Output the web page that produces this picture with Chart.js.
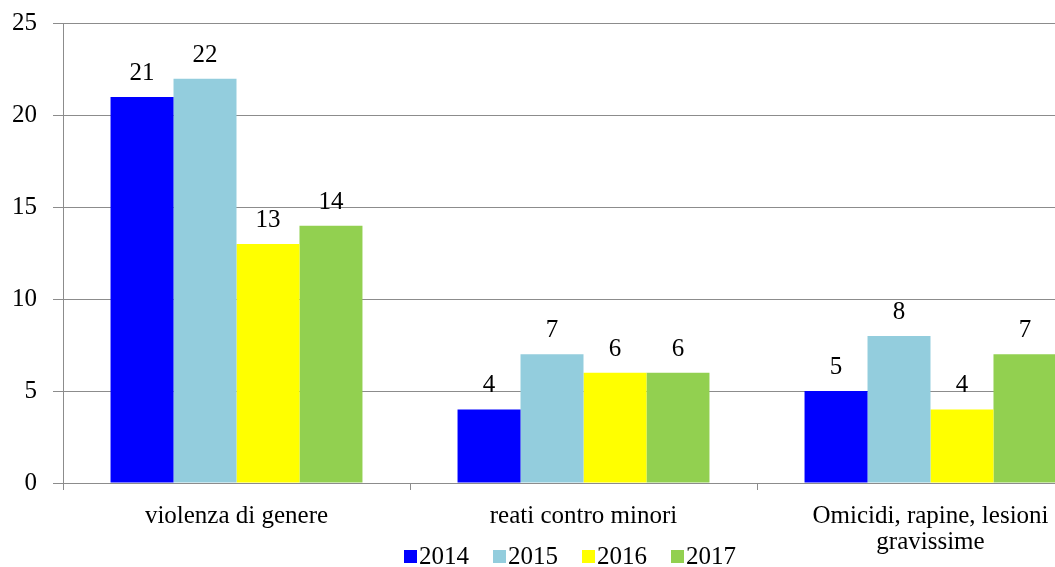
<!DOCTYPE html>
<html>
<head>
<meta charset="utf-8">
<script src="https://cdn.jsdelivr.net/npm/chart.js@4/dist/chart.umd.min.js"></script>
<style>
  html, body { margin: 0; padding: 0; background: #fff; overflow: hidden; }
  canvas { display: block; }
</style>
</head>
<body>
<canvas id="c" width="1130" height="567"></canvas>
<script>
// Categories and yearly counts
const categories = [
  'violenza di genere',
  'reati contro minori',
  ['Omicidi, rapine, lesioni', 'gravissime']
];
const years = ['2014', '2015', '2016', '2017'];
const values2014 = [21, 4, 5];
const values2015 = [22, 7, 8];
const values2016 = [13, 6, 4];
const values2017 = [14, 6, 7];
const yTicks = [0, 5, 10, 15, 20, 25];

const colors = ['#0000FF', '#93CDDD', '#FFFF00', '#92D050'];
const serif = '"Liberation Serif", "Times New Roman", serif';
const gridGrey = '#8c8c8c';

// Value labels above every bar
const valueLabels = {
  id: 'valueLabels',
  afterDatasetsDraw(chart) {
    const ctx = chart.ctx;
    ctx.save();
    ctx.font = '25px ' + serif;
    ctx.fillStyle = '#000';
    ctx.textAlign = 'center';
    ctx.textBaseline = 'alphabetic';
    chart.data.datasets.forEach((ds, i) => {
      chart.getDatasetMeta(i).data.forEach((bar, j) => {
        ctx.fillText(String(ds.data[j]), bar.x, bar.y - 17);
      });
    });
    ctx.restore();
  }
};

// Compact legend row: small square swatch right next to the year
const yearLegend = {
  id: 'yearLegend',
  afterDraw(chart) {
    const ctx = chart.ctx;
    ctx.save();
    ctx.font = '25px ' + serif;
    ctx.textBaseline = 'middle';
    ctx.textAlign = 'left';
    const box = 13, gap = 2, spacing = 24;
    const items = chart.data.datasets.map(ds => ({
      label: ds.label, color: ds.backgroundColor,
      w: box + gap + ctx.measureText(ds.label).width
    }));
    const total = items.reduce((s, it) => s + it.w, 0) + spacing * (items.length - 1);
    let x = chart.width / 2 + 5 - total / 2;
    const yMid = 557;
    items.forEach(it => {
      ctx.fillStyle = it.color;
      ctx.fillRect(x, yMid - 7, box, box);
      ctx.fillStyle = '#000';
      ctx.fillText(it.label, x + box + gap, yMid);
      x += it.w + spacing;
    });
    ctx.restore();
  }
};

const datasets = [values2014, values2015, values2016, values2017].map((vals, i) => ({
  label: years[i],
  data: vals,
  backgroundColor: colors[i],
  borderWidth: 0,
  categoryPercentage: 0.726,
  barPercentage: 1.0
}));

new Chart(document.getElementById('c'), {
  type: 'bar',
  data: { labels: categories, datasets },
  plugins: [valueLabels, yearLegend],
  options: {
    responsive: false,
    animation: false,
    devicePixelRatio: 1,
    layout: { padding: { top: 23, right: 26, left: 0, bottom: 0 } },
    plugins: {
      legend: { display: false },
      tooltip: { enabled: false },
      title: { display: false }
    },
    scales: {
      x: {
        offset: true,
        grid: {
          offset: true,
          drawOnChartArea: false,
          drawTicks: true,
          tickLength: 7,
          color: gridGrey
        },
        border: { display: true, color: gridGrey, width: 1 },
        ticks: {
          color: '#000',
          font: { family: serif, size: 25, lineHeight: 1.05 },
          maxRotation: 0,
          autoSkip: false,
          padding: 13,
          crossAlign: 'near'
        },
        afterFit(scale) { scale.height = 84; }
      },
      y: {
        min: 0,
        max: 25,
        afterBuildTicks(scale) { scale.ticks = yTicks.map(v => ({ value: v })); },
        grid: {
          color: gridGrey,
          tickLength: 10,
          drawTicks: true
        },
        border: { display: true, color: gridGrey, width: 1 },
        ticks: {
          color: '#000',
          font: { family: serif, size: 25, lineHeight: 0.6 },
          padding: 16
        },
        afterFit(scale) { scale.width = 63; }
      }
    }
  }
});
</script>
</body>
</html>
